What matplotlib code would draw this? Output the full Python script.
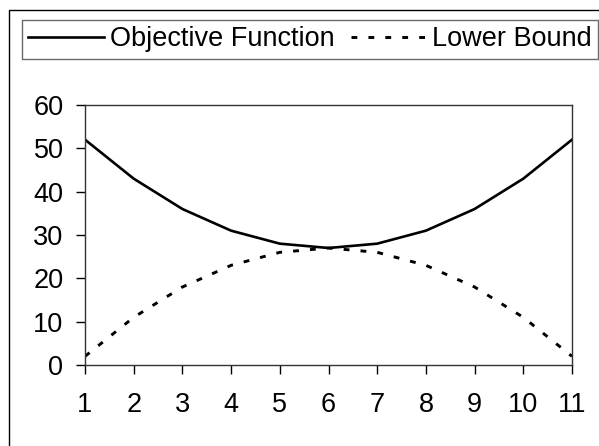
import numpy as np
import matplotlib
matplotlib.use("Agg")
import matplotlib.pyplot as plt
from matplotlib.patches import Rectangle

plt.rcParams['font.family'] = ['Liberation Sans', 'DejaVu Sans']

# data
iterations = [1, 2, 3, 4, 5, 6, 7, 8, 9, 10, 11]
objective = [52, 43, 36, 31, 28, 27, 28, 31, 36, 43, 52]
lower_bound = [2, 11, 18, 23, 26, 27, 26, 23, 18, 11, 2]
y_ticks = [0, 10, 20, 30, 40, 50, 60]

W, H = 599, 446
fig = plt.figure(figsize=(W / 100, H / 100), dpi=100, facecolor='white')

# outer chart border (runs off the bottom/right of the image)
fig.patches.append(Rectangle((9 / W, -0.05), 1.2, 1 - 10 / H + 0.05,
                             transform=fig.transFigure, fill=False,
                             edgecolor='black', linewidth=1.0))

ax = fig.add_axes([85 / W, 1 - 365 / H, (572 - 85) / W, (365 - 105) / H])
ax.plot(iterations, objective, color='black', linewidth=1.9,
        label='Objective Function')
ax.plot(iterations, lower_bound, color='black', linewidth=2.1,
        linestyle=(0, (2.0, 3.8)), label='Lower Bound')

ax.set_xlim(1, 11)
ax.set_ylim(0, 60)
ax.set_xticks(iterations)
ax.set_yticks(y_ticks)
ax.tick_params(axis='both', direction='out', length=6.5, width=1.0,
               labelsize=19.5, colors='black')
ax.tick_params(axis='x', pad=13)
ax.tick_params(axis='y', pad=9)
for s in ax.spines.values():
    s.set_color('#333333')
    s.set_linewidth(1.0)

h, l = ax.get_legend_handles_labels()
leg = fig.legend(h, l, loc='center', bbox_to_anchor=(310 / W, 1 - 39.5 / H),
                 ncol=2, fontsize=19.5, frameon=True, fancybox=False,
                 edgecolor='#444444', handlelength=2.8, handletextpad=0.2,
                 columnspacing=0.6, borderpad=0.25, borderaxespad=0)
leg.get_frame().set_linewidth(1.0)

fig.savefig('out.png', dpi=100, facecolor='white')
